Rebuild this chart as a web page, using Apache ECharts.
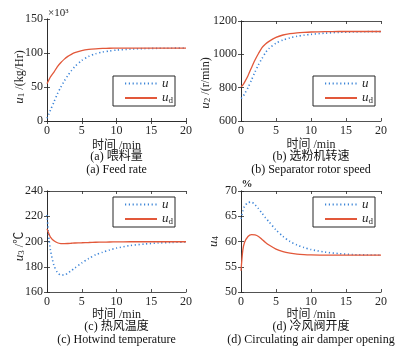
<!DOCTYPE html>
<html>
<head>
<meta charset="utf-8">
<script src="https://cdn.jsdelivr.net/npm/echarts@6/dist/echarts.min.js"></script>
<style>
  html, body { margin: 0; padding: 0; background: #fff; }
  #chart { width: 403px; height: 354px; }
</style>
</head>
<body>
<div id="chart"></div>
<script>
// time axis (min), shared by all four panels
const T = [0, 0.25, 0.5, 1, 1.5, 2, 2.5, 3, 3.5, 4, 5, 6, 7, 8, 9, 10, 12, 14, 16, 18, 20];

// (a) feed rate, x10^3 kg/Hr
const feedU  = [4, 10, 16, 28, 40, 50, 59, 67, 74, 80, 89, 95, 99, 101.5, 103, 104.3, 105.7, 106.5, 106.9, 107.1, 107.2];
const feedUd = [55, 60, 65, 72, 80, 86, 91, 95, 98, 100.5, 103.5, 105.3, 106.2, 106.7, 107, 107.1, 107.2, 107.3, 107.3, 107.3, 107.3];

// (b) separator rotor speed, r/min
const speedU  = [736, 745, 762, 800, 846, 894, 938, 975, 1010, 1035, 1067, 1086, 1099, 1108, 1115, 1120, 1127, 1132, 1134, 1136, 1136];
const speedUd = [806, 815, 832, 872, 920, 966, 1005, 1040, 1062, 1078, 1102, 1116, 1124, 1129, 1132, 1134, 1136, 1137, 1137, 1137, 1137];

// (c) hot wind temperature, deg C
const hotU  = [221, 204, 193, 181, 175.5, 173.5, 173.5, 175, 177, 179, 183, 186.5, 189.5, 191.5, 193.3, 194.8, 196.8, 198, 198.8, 199.3, 199.6];
const hotUd = [210, 206.5, 203.5, 200.5, 199, 198.4, 198.3, 198.4, 198.6, 198.8, 199, 199.2, 199.4, 199.5, 199.6, 199.7, 199.8, 199.8, 199.8, 199.8, 199.8];

// (d) circulating air damper opening, %
const damperU  = [64.5, 66, 67, 67.7, 67.8, 67.3, 66.5, 65.6, 64.7, 63.9, 62.3, 61, 60, 59.3, 58.8, 58.4, 57.9, 57.6, 57.4, 57.35, 57.3];
const damperUd = [54.2, 58.2, 59.8, 61, 61.35, 61.3, 61, 60.4, 59.8, 59.3, 58.5, 58, 57.7, 57.5, 57.4, 57.35, 57.3, 57.3, 57.3, 57.3, 57.3];

// y axis ranges per panel
const yMin  = [0, 600, 160, 50];
const yMax  = [150, 1200, 240, 70];
const yStep = [50, 200, 20, 5];

const yNames = ['{i|u}{s|1}{t| /(kg/Hr)}', '{i|u}{s|2}{t| /(r/min)}', '{i|u}{s|3}{t| /℃}', '{i|u}{s|4}'];
const capZh = ['(a) 喂料量', '(b) 选粉机转速', '(c) 热风温度', '(d) 冷风阀开度'];
const capEn = ['(a) Feed rate', '(b) Separator rotor speed', '(c) Hotwind temperature', '(d) Circulating air damper opening'];

const panels = [[feedU, feedUd], [speedU, speedUd], [hotU, hotUd], [damperU, damperUd]];

const SERIF = "'Liberation Serif','Noto Sans CJK SC',serif";
const AX = '#262626';
const BLUE = '#3d85d8';
const RED = '#e2583a';

const boxes = [
  { left: 47, top: 19, width: 139, height: 102 },
  { left: 241, top: 21, width: 140, height: 100 },
  { left: 47, top: 191, width: 139, height: 101 },
  { left: 241, top: 191, width: 140, height: 101 },
];
const yGap = [21, 29, 21, 21];
const yPad = [[0, 14, 0, 0], [0, 24, 0, 0], [0, 10, 0, 0], [0, 0, 0, 0]];
const xGap = [19, 18, 17, 17];
const legendPos = [[113, 76], [313, 76], [113, 197], [313, 197]];

const rich = {
  i: { fontStyle: 'italic', fontSize: 13, fontFamily: SERIF, color: AX, lineHeight: 13 },
  s: { fontSize: 9, fontFamily: SERIF, color: AX, padding: [5, 0, 0, 0], lineHeight: 9 },
  t: { fontSize: 12, fontFamily: SERIF, color: AX, lineHeight: 13 },
};

const zip = (t, v) => t.map((x, i) => [x, v[i]]);

const lineAx = { show: true, lineStyle: { color: AX, width: 0.8 } };
const tickIn = { show: true, inside: true, length: 3, lineStyle: { color: AX, width: 0.8 } };
const lbl = { color: AX, fontSize: 12, fontFamily: SERIF, formatter: v => String(v) };

const grid = [], xAxis = [], yAxis = [], series = [], legend = [], graphic = [];

boxes.forEach((b, i) => {
  grid.push(Object.assign({ containLabel: false, show: false }, b));
  xAxis.push({
    gridIndex: i, type: 'value', min: 0, max: 20, interval: 5,
    axisLine: lineAx, axisTick: tickIn, splitLine: { show: false },
    axisLabel: Object.assign({ margin: 4 }, lbl),
    name: '时间 /min', nameLocation: 'middle', nameGap: xGap[i], nameMoveOverlap: false,
    nameTextStyle: { color: AX, fontSize: 12, fontFamily: SERIF },
  });
  xAxis.push({
    gridIndex: i, type: 'value', position: 'top', min: 0, max: 20, interval: 5,
    axisLine: lineAx, axisTick: tickIn, axisLabel: { show: false }, splitLine: { show: false },
  });
  yAxis.push({
    gridIndex: i, type: 'value', min: yMin[i], max: yMax[i], interval: yStep[i],
    axisLine: lineAx, axisTick: tickIn, splitLine: { show: false },
    axisLabel: Object.assign({ margin: 4 }, lbl),
    name: yNames[i], nameLocation: 'middle', nameGap: yGap[i], nameMoveOverlap: false,
    nameTextStyle: { rich: rich, padding: yPad[i] },
  });
  yAxis.push({
    gridIndex: i, type: 'value', position: 'right', min: yMin[i], max: yMax[i], interval: yStep[i],
    axisLine: lineAx, axisTick: tickIn, axisLabel: { show: false }, splitLine: { show: false },
  });

  series.push({
    name: 'u', type: 'line', xAxisIndex: 2 * i, yAxisIndex: 2 * i,
    data: zip(T, panels[i][0]), symbol: 'none', smooth: 0.25,
    lineStyle: { color: BLUE, width: 1.6, type: [1.2, 2.6] }, itemStyle: { color: BLUE },
  });
  series.push({
    name: 'ud', type: 'line', xAxisIndex: 2 * i, yAxisIndex: 2 * i,
    data: zip(T, panels[i][1]), symbol: 'none', smooth: 0.25,
    lineStyle: { color: RED, width: 1.3 }, itemStyle: { color: RED },
  });

  legend.push({
    data: ['u', 'ud'], orient: 'vertical',
    left: legendPos[i][0], top: legendPos[i][1],
    itemWidth: 32, itemHeight: 10, itemGap: 1,
    padding: [1, 2, 1, 11],
    backgroundColor: '#fff', borderColor: AX, borderWidth: 1,
    itemStyle: { opacity: 0 },
    formatter: n => (n === 'ud' ? '{i|u}{s|d}' : '{i|u}'),
    textStyle: { rich: rich },
    selectedMode: false,
  });

  const cx = b.left + b.width / 2;
  const cy = i < 2 ? 157 : 327;
  graphic.push({
    type: 'text', x: cx, y: cy,
    style: { text: capZh[i], fontSize: 12, fontFamily: SERIF, fill: '#111',
      align: 'center', verticalAlign: 'middle', textAlign: 'center', textVerticalAlign: 'middle' },
  });
  graphic.push({
    type: 'text', x: cx, y: cy + 13,
    style: { text: capEn[i], fontSize: 12, fontFamily: SERIF, fill: '#111',
      align: 'center', verticalAlign: 'middle', textAlign: 'center', textVerticalAlign: 'middle' },
  });
});

graphic.push({
  type: 'text', x: 48, y: 13.5,
  style: { text: '×10³', fontSize: 11, fontFamily: SERIF, fill: AX,
    align: 'left', verticalAlign: 'middle', textAlign: 'left', textVerticalAlign: 'middle' },
});
graphic.push({
  type: 'text', x: 241.5, y: 184.5,
  style: { text: '%', fontSize: 11, fontWeight: 'bold', fontFamily: SERIF, fill: AX,
    align: 'left', verticalAlign: 'middle', textAlign: 'left', textVerticalAlign: 'middle' },
});

const chart = echarts.init(document.getElementById('chart'), null, { renderer: 'canvas' });
chart.setOption({
  animation: false,
  backgroundColor: '#fff',
  grid, xAxis, yAxis, series, legend, graphic,
});
</script>
</body>
</html>
